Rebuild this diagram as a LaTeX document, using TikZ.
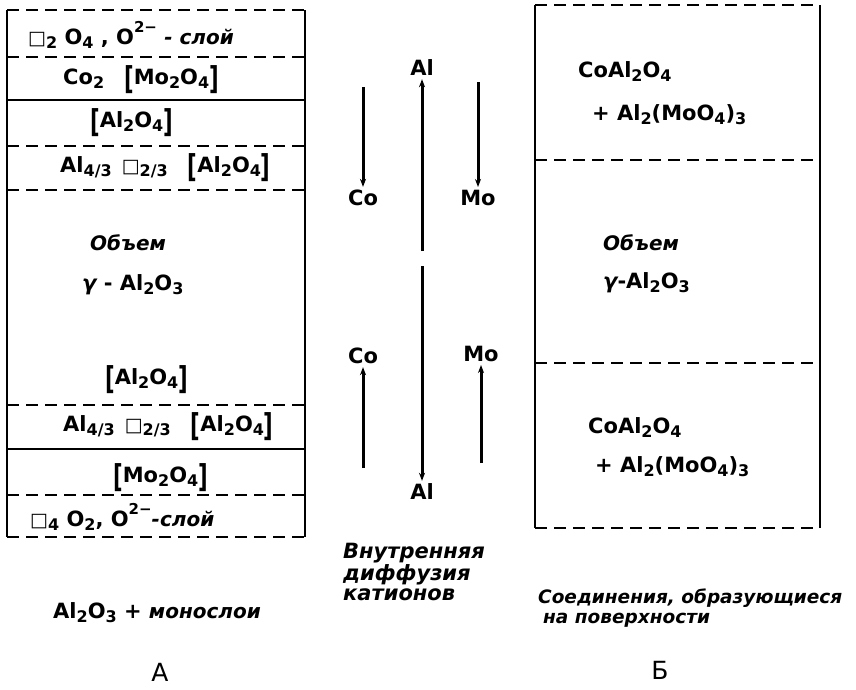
\documentclass[tikz,border=0pt]{standalone}
\usepackage{fontspec}
\usepackage{graphicx}
\setmainfont{DejaVu Sans}
\usepackage{tikz}
\usetikzlibrary{arrows.meta, positioning}

\newcommand{\frm}{\bfseries\fontsize{21}{25}\selectfont}
\newcommand{\rus}{\bfseries\itshape\fontsize{20}{20}\selectfont}
\newcommand{\subsc}[1]{\raisebox{-0.35ex}{\fontsize{16}{16}\selectfont #1}}
\newcommand{\supsc}[1]{\raisebox{1.05ex}{\fontsize{15}{15}\selectfont #1}}
\newcommand{\vac}{{\fontsize{19}{19}\selectfont □}}
\newcommand{\lbrk}{\raisebox{-0.45ex}{\scalebox{1}[1.5]{[}}}
\newcommand{\rbrk}{\raisebox{-0.45ex}{\scalebox{1}[1.5]{]}}}
\newcommand{\gap}{\hspace{10pt}}

\begin{document}
\begin{tikzpicture}[
  x=1pt, y=-1pt,
  formula/.style={anchor=west, inner sep=0pt, font=\frm},
  note/.style={anchor=west, inner sep=0pt, font=\rus},
  ion/.style={font=\frm, inner sep=3pt},
  wall/.style={line width=2.2pt},
  cut/.style={line width=2.2pt, dash pattern=on 12pt off 7pt},
  arrow/.style={-{Stealth[length=8pt,width=6pt]}, line width=3pt}
]
  \useasboundingbox (0,0) rectangle (856,689);

  % left column: layers of the monolayer catalyst
  \draw[wall] (7,10) -- (7,537);
  \draw[wall] (305,10) -- (305,537);
  \foreach \y in {10,57,146,190,405,495,537}
    \draw[cut] (7,\y) -- (305,\y);
  \foreach \y in {100,449}
    \draw[wall] (7,\y) -- (305,\y);

  \node[formula] (topo) at (28,35) {\vac\subsc{2} O\subsc{4} , O\supsc{2−} {\rus - слой}};
  \node[formula] (topmo) at (63,80) {Co\subsc{2}\gap\gap\lbrk Mo\subsc{2}O\subsc{4}\rbrk};
  \node[formula] (topal) at (90,123) {\lbrk Al\subsc{2}O\subsc{4}\rbrk};
  \node[formula] (topsp) at (60,168) {Al\subsc{4/3}\gap\vac\subsc{2/3}\gap\gap\lbrk Al\subsc{2}O\subsc{4}\rbrk};
  \node[note] (bulkA) at (90,243) {Объем};
  \node[formula] (gamA) at (82,285) {{\itshape γ} - Al\subsc{2}O\subsc{3}};
  \node[formula] (botal) at (105,380) {\lbrk Al\subsc{2}O\subsc{4}\rbrk};
  \node[formula] (botsp) at (63,427) {Al\subsc{4/3}\gap\vac\subsc{2/3}\gap\gap\lbrk Al\subsc{2}O\subsc{4}\rbrk};
  \node[formula] (botmo) at (113,478) {\lbrk Mo\subsc{2}O\subsc{4}\rbrk};
  \node[formula] (boto) at (30,517) {\vac\subsc{4} O\subsc{2}, O\supsc{2−}{\rus -слой}};

  % right column: surface compounds
  \draw[wall] (535,5) -- (535,528);
  \draw[wall] (820,5) -- (820,528);
  \foreach \y in {5,160,363,528}
    \draw[cut] (535,\y) -- (820,\y);

  \node[formula] (spinB1) at (578,72) {CoAl\subsc{2}O\subsc{4}};
  \node[formula] (molyB1) at (592,115) {+ Al\subsc{2}(MoO\subsc{4})\subsc{3}};
  \node[note] (bulkB) at (603,243) {Объем};
  \node[formula] (gamB) at (603,283) {{\itshape γ}-Al\subsc{2}O\subsc{3}};
  \node[formula] (spinB2) at (588,428) {CoAl\subsc{2}O\subsc{4}};
  \node[formula] (molyB2) at (595,467) {+ Al\subsc{2}(MoO\subsc{4})\subsc{3}};

  % cation diffusion
  \node[ion] (co1) at (363,198) {Co};
  \node[ion] (al1) at (422,68) {Al};
  \node[ion] (mo1) at (478,198) {Mo};
  \node[ion] (co2) at (363,356) {Co};
  \node[ion] (mo2) at (481,354) {Mo};
  \node[ion] (al2) at (422,492) {Al};

  \coordinate (costart1) at (363,87);
  \coordinate (mostart1) at (478,82);
  \coordinate (alstart1) at (422,251);
  \coordinate (alstart2) at (422,266);
  \coordinate (costart2) at (363,468);
  \coordinate (mostart2) at (481,463);

  \draw[arrow] (costart1) -- (co1);
  \draw[arrow] (mostart1) -- (mo1);
  \draw[arrow] (alstart1) -- (al1);
  \draw[arrow] (alstart2) -- (al2);
  \draw[arrow] (costart2) -- (co2);
  \draw[arrow] (mostart2) -- (mo2);

  % captions
  \node[note, anchor=north west, align=left, font=\bfseries\itshape\fontsize{21}{20}\selectfont] (diff) at (343,543) {Внутренняя\\диффузия\\катионов};
  \node[formula] (capA) at (53,613) {Al\subsc{2}O\subsc{3} + {\rus монослои}};
  \node[note, anchor=north west, align=left, font=\bfseries\itshape\fontsize{18.5}{19.5}\selectfont] (capB) at (538,589) {Соединения, образующиеся\\\hspace{5pt}на поверхности};
  \node[font=\fontsize{25}{25}\selectfont] (labA) at (160,672) {А};
  \node[font=\fontsize{25}{25}\selectfont] (labB) at (660,670) {Б};
\end{tikzpicture}
\end{document}
